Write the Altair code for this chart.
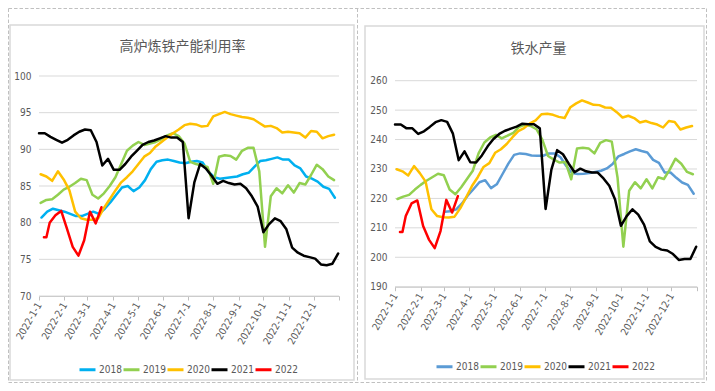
import altair as alt
import pandas as pd

FONT_NUM = "Liberation Sans Narrow, DejaVu Sans Condensed, Liberation Sans, sans-serif"
FONT_CJK = "Noto Sans CJK SC"
TEXT_GREY = "#595959"

series_names = ["2018", "2019", "2020", "2021", "2022"]
left_colors = ["#00B0F0", "#92D050", "#FFC000", "#000000", "#FF0000"]
right_colors = ["#5B9BD5", "#92D050", "#FFC000", "#000000", "#FF0000"]

left_title = "高炉炼铁产能利用率"
right_title = "铁水产量"

month_ticks = ["2022-1-1", "2022-2-1", "2022-3-1", "2022-4-1", "2022-5-1", "2022-6-1",
               "2022-7-1", "2022-8-1", "2022-9-1", "2022-10-1", "2022-11-1", "2022-12-1",
               "2023-1-1"]
left_y_ticks = [70, 75, 80, 85, 90, 95, 100]
right_y_ticks = [190, 200, 210, 220, 230, 240, 250, 260]

# ---------- 高炉炼铁产能利用率 (%) ----------
util_2018_start = "2022-01-04"
util_2018 = [80.7, 81.5, 81.9, 81.7, 81.5, 81.2, 80.9, 80.9, 81.2, 81.5,
             81.2, 81.9, 82.8, 83.8, 84.8, 85.0, 84.3, 84.8, 85.8, 87.3,
             88.3, 88.5, 88.6, 88.4, 88.2, 88.1, 88.3, 88.4, 88.2, 87.0,
             86.2, 86.0, 86.1, 86.2, 86.3, 86.6, 86.8, 87.6, 88.4, 88.5,
             88.7, 88.9, 88.6, 88.6, 87.8, 87.4, 86.3, 86.0, 85.6, 84.9,
             84.6, 83.4]
util_2019_start = "2022-01-03"
util_2019 = [82.7, 83.1, 83.2, 83.8, 84.5, 84.9, 85.4, 86.0, 85.8, 83.8,
             83.3, 84.0, 85.0, 86.2, 88.0, 89.8, 90.5, 91.0, 90.6, 90.8,
             91.0, 91.4, 91.9, 92.2, 91.8, 90.8, 88.3, 88.0, 87.8, 87.6,
             85.3, 89.0, 89.2, 89.1, 88.6, 89.8, 90.2, 90.2, 87.0, 76.7,
             83.6, 84.7, 84.0, 85.1, 84.1, 85.4, 85.2, 86.5, 87.9, 87.3,
             86.3, 85.8]
util_2020_start = "2022-01-03"
util_2020 = [86.6, 86.3, 85.7, 87.0, 85.9, 84.4, 81.5, 80.6, 80.4, 80.4,
             80.6, 82.0, 83.2, 84.4, 85.5, 86.2, 87.0, 88.0, 89.0, 89.5,
             90.4, 91.0, 91.6, 92.2, 92.7, 93.3, 93.5, 93.4, 93.1, 93.2,
             94.5, 94.8, 95.1, 94.8, 94.6, 94.4, 94.3, 94.1, 93.6, 93.1,
             93.2, 92.9, 92.3, 92.4, 92.3, 92.2, 91.6, 92.5, 92.4, 91.5,
             91.8, 92.0]
util_2021_start = "2022-01-01"
util_2021 = [92.2, 92.2, 91.7, 91.3, 90.9, 91.3, 91.9, 92.4, 92.7, 92.6,
             91.0, 87.8, 88.7, 87.2, 87.2, 88.0, 89.0, 89.8, 90.6, 91.0,
             91.2, 91.5, 91.8, 91.6, 91.6, 91.0, 80.6, 85.5, 88.0, 87.4,
             86.4, 85.3, 85.7, 85.4, 85.2, 85.3, 84.7, 83.6, 82.2, 78.7,
             79.8, 80.6, 80.2, 79.1, 76.6, 75.9, 75.5, 75.3, 75.1, 74.3,
             74.2, 74.4, 75.8]
dates_2022 = ["2022-01-07", "2022-01-10", "2022-01-14", "2022-01-21", "2022-01-28",
              "2022-02-04", "2022-02-11", "2022-02-18", "2022-02-25", "2022-03-04",
              "2022-03-11", "2022-03-18"]
util_2022 = [78.0, 78.0, 80.0, 81.0, 81.6, 79.2, 76.7, 75.5, 77.6, 81.5, 79.9, 82.1]

# ---------- 铁水产量 (万吨) ----------
hm_2018_start = "2022-03-02"
hm_2018 = [215.5, 215.6, 216.3, 218.3, 221.0, 223.2, 225.5, 226.2, 223.5, 224.8,
           228.3, 231.8, 234.8, 235.3, 235.1, 234.6, 234.5, 234.5, 235.3, 235.3,
           234.0, 231.0, 228.6, 228.3, 228.4, 228.6, 229.0, 229.4, 230.2, 231.7,
           234.3, 235.1, 236.0, 236.7, 236.1, 235.6, 233.1, 232.1, 228.8, 228.8,
           227.0, 225.4, 224.6, 221.6]
hm_2019_start = "2022-01-04"
hm_2019 = [219.8, 220.6, 221.2, 223.0, 224.6, 226.0, 227.2, 228.4, 227.9, 223.0,
           221.4, 223.8, 226.6, 229.4, 235.3, 239.0, 240.7, 241.6, 240.4, 241.3,
           242.3, 244.3, 245.0, 244.6, 243.5, 240.0, 234.4, 233.2, 232.2, 232.4,
           226.5, 237.0, 237.2, 237.0, 235.3, 238.9, 239.8, 239.3, 227.0, 203.6,
           222.6, 225.5, 223.4, 226.5, 223.4, 227.2, 226.6, 229.8, 233.5, 231.8,
           229.0, 228.2]
hm_2020_start = "2022-01-03"
hm_2020 = [229.9, 229.2, 227.8, 231.0, 228.6, 225.7, 216.3, 214.0, 213.6, 213.5,
           213.8, 216.7, 220.4, 224.2, 227.2, 230.7, 232.0, 235.5, 236.7, 238.5,
           240.8, 242.9, 243.9, 245.5, 246.5, 248.6, 248.8, 248.4, 247.7, 247.3,
           251.0, 252.3, 253.3, 252.6, 251.8, 251.7, 250.9, 250.8, 249.3, 247.5,
           248.1, 247.3, 245.8, 246.3, 245.6, 245.1, 244.1, 246.3, 246.0, 243.4,
           244.1, 244.6]
hm_2021_start = "2022-01-01"
hm_2021 = [245.1, 245.1, 243.8, 243.8, 241.9, 242.8, 244.3, 245.9, 246.6, 246.0,
           242.0, 233.0, 236.0, 232.3, 232.2, 234.6, 237.7, 240.2, 241.9, 243.0,
           243.7, 244.4, 245.4, 245.2, 245.2, 243.8, 216.4, 229.8, 236.4, 235.0,
           231.8, 228.9, 230.1, 229.2, 228.8, 228.8, 226.8, 224.3, 219.6, 210.7,
           214.0, 216.3, 214.5, 211.1, 205.4, 203.5, 202.6, 202.3, 201.1, 199.1,
           199.4, 199.4, 203.6]
hm_2022 = [208.6, 208.6, 214.0, 218.3, 219.3, 210.6, 206.0, 203.1, 208.9, 219.5, 215.2, 220.8]


def weekly(start, values, name):
    d = pd.date_range(start, periods=len(values), freq="7D").strftime("%Y-%m-%d")
    return pd.DataFrame({"date": list(d), "value": values, "series": name})


def dated(dates, values, name):
    return pd.DataFrame({"date": dates, "value": values, "series": name})


left_df = pd.concat([
    weekly(util_2018_start, util_2018, "2018"),
    weekly(util_2019_start, util_2019, "2019"),
    weekly(util_2020_start, util_2020, "2020"),
    weekly(util_2021_start, util_2021, "2021"),
    dated(dates_2022, util_2022, "2022"),
], ignore_index=True)

right_df = pd.concat([
    weekly(hm_2018_start, hm_2018, "2018"),
    weekly(hm_2019_start, hm_2019, "2019"),
    weekly(hm_2020_start, hm_2020, "2020"),
    weekly(hm_2021_start, hm_2021, "2021"),
    dated(dates_2022, hm_2022, "2022"),
], ignore_index=True)


def to_dt(s):
    y, m, d = [int(p) for p in s.split("-")]
    return alt.DateTime(year=y, month=m, date=d, utc=True)


tick_values = [to_dt(s) for s in month_ticks]
x_domain = [tick_values[0], tick_values[-1]]
label_expr = ("utcyear(datum.value) > 2022 ? '' : "
              "utcyear(datum.value) + '-' + (utcmonth(datum.value) + 1) + '-' + utcdate(datum.value)")

one_row = pd.DataFrame({"k": [0]})

# ---------------- layout (chart pixel coordinates) ----------------
W, H = 699, 375
L_X = (31, 331)       # left plot x-range
L_Y = (288, 68)       # left plot y-range (bottom, top)
R_X = (387, 689)
R_Y = (278.7, 72.7)


def lines_layer(df, colors, y_ticks, xr, yr, legend_xy):
    x_enc = alt.X(
        "date:T",
        scale=alt.Scale(type="utc", domain=x_domain, nice=False, range=list(xr)),
        axis=alt.Axis(values=tick_values, labelExpr=label_expr, labelAngle=-60,
                      labelFont=FONT_NUM, labelFontSize=10, labelColor=TEXT_GREY,
                      labelPadding=3, grid=False, domainColor="#BFBFBF",
                      tickColor="#BFBFBF", tickSize=4, title=None, orient="bottom",
                      offset=yr[0] - H, labelOverlap=False, labelFlush=False),
    )
    y_enc = alt.Y(
        "value:Q",
        scale=alt.Scale(domain=[y_ticks[0], y_ticks[-1]], nice=False, zero=False,
                        range=list(yr)),
        axis=alt.Axis(values=y_ticks, grid=False, domain=False, ticks=False,
                      labelFont=FONT_NUM, labelFontSize=10, labelColor=TEXT_GREY,
                      labelPadding=8, title=None, orient="left", offset=-xr[0]),
    )
    color_enc = alt.Color(
        "series:N",
        scale=alt.Scale(domain=series_names, range=colors),
        legend=alt.Legend(title=None, orient="none", legendX=legend_xy[0],
                          legendY=legend_xy[1], direction="horizontal", columns=5,
                          symbolType="stroke", symbolSize=256, symbolStrokeWidth=3,
                          labelFont=FONT_NUM, labelFontSize=10, labelColor=TEXT_GREY,
                          columnPadding=-7.5, labelOffset=2, padding=0),
    )
    return alt.Chart(df).mark_line(strokeWidth=2.5, strokeJoin="round",
                                   strokeCap="round").encode(
        x=x_enc, y=y_enc, color=color_enc)


def grid_layer(y_ticks, xr, yr):
    g = pd.DataFrame({"tick": y_ticks})
    return alt.Chart(g).mark_rule(color="#D9D9D9", strokeWidth=1).encode(
        y=alt.Y("tick:Q", scale=alt.Scale(domain=[y_ticks[0], y_ticks[-1]], nice=False,
                                          zero=False, range=list(yr)), axis=None),
        x=alt.value(xr[0]), x2=alt.value(xr[1]))


def box(x1, x2, y1, y2):
    return alt.Chart(one_row).mark_rect(fillOpacity=0, stroke="#D9D9D9",
                                        strokeWidth=1.5).encode(
        x=alt.value(x1), x2=alt.value(x2), y=alt.value(y1), y2=alt.value(y2))


def dash_h(x1, x2, y):
    return alt.Chart(one_row).mark_rule(color="#C0C0C0", strokeWidth=1,
                                        strokeDash=[3.5, 2]).encode(
        x=alt.value(x1), x2=alt.value(x2), y=alt.value(y))


def dash_v(x, y1, y2):
    return alt.Chart(one_row).mark_rule(color="#C0C0C0", strokeWidth=1,
                                        strokeDash=[3.5, 2]).encode(
        x=alt.value(x), y=alt.value(y1), y2=alt.value(y2))


def title_text(t, x, y):
    return alt.Chart(one_row).mark_text(
        text=t, font=FONT_CJK, fontSize=14, color=TEXT_GREY,
        align="center", baseline="middle").encode(x=alt.value(x), y=alt.value(y))


layers = [
    box(2, 346, 17, 372),
    box(357, 696, 18, 371),
    dash_h(0.5, 698.5, 0.5),
    dash_h(0.5, 698.5, 374.5),
    dash_v(0.5, 0.5, 374.5),
    dash_v(349.5, 0.5, 374.5),
    dash_v(698.5, 0.5, 374.5),
    grid_layer(left_y_ticks, L_X, L_Y),
    grid_layer(right_y_ticks, R_X, R_Y),
    lines_layer(left_df, left_colors, left_y_ticks, L_X, L_Y, (70, 352)),
    lines_layer(right_df, right_colors, right_y_ticks, R_X, R_Y, (427, 349)),
    title_text(left_title, 174.5, 38.5),
    title_text(right_title, 530.5, 41),
]

chart = alt.layer(*layers).resolve_scale(
    x="independent", y="independent", color="independent"
).resolve_axis(x="independent", y="independent").resolve_legend(
    color="independent"
).properties(width=W, height=H, autosize="none", padding=0,
             background="white").configure_view(stroke=None)

chart.save("out.html", embed_options={"renderer": "svg", "actions": False})
